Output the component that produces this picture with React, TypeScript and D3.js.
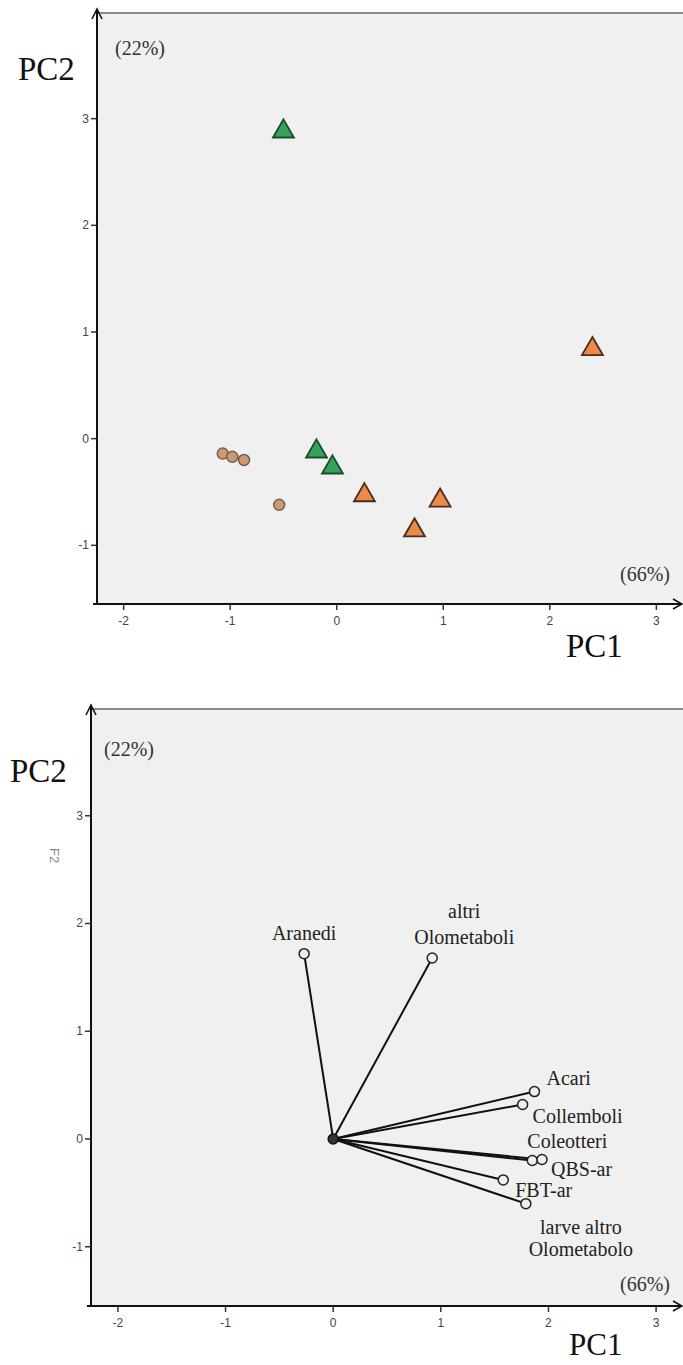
import React from 'react';
import * as d3 from 'd3';

const W = 683, H = 1365;

// shared axis values
const ticksX = [-2, -1, 0, 1, 2, 3];
const ticksY = [-1, 0, 1, 2, 3];
const domX = [-2.25, 3.25];
const domY = [-1.55, 4.0];

// top plot: object scores (PC1, PC2)
const greenX = [-0.5, -0.19, -0.04];
const greenY = [2.88, -0.12, -0.27];
const orangeX = [2.4, 0.26, 0.97, 0.73];
const orangeY = [0.84, -0.53, -0.58, -0.86];
const roundX = [-1.07, -0.98, -0.87, -0.54];
const roundY = [-0.14, -0.17, -0.2, -0.62];

// bottom plot: variable loadings
const varNames = ['Aranedi', 'altri\nOlometaboli', 'Acari', 'Collemboli', 'Coleotteri', 'QBS-ar', 'FBT-ar', 'larve altro\nOlometabolo'];
const varX = [-0.27, 0.92, 1.87, 1.76, 1.85, 1.94, 1.58, 1.79];
const varY = [1.72, 1.68, 0.44, 0.32, -0.2, -0.19, -0.38, -0.6];

// label placement relative to the end circle: dx, dy(first baseline), anchor, line gap
const labelPos: [number, number, string, number][] = [
  [0, -14, 'middle', 0],
  [32, -40, 'middle', 26],
  [12, -7, 'start', 0],
  [10, 18, 'start', 0],
  [-5, -13, 'start', 0],
  [9, 17, 'start', 0],
  [12, 17, 'start', 0],
  [55, 30, 'middle', 22],
];

const serif = '"Liberation Serif", "Times New Roman", serif';
const sans = '"Liberation Sans", Arial, sans-serif';

type Frame = { left: number; top: number; bottom: number };

function Axes({ f, x, y }: { f: Frame; x: d3.ScaleLinear<number, number>; y: d3.ScaleLinear<number, number> }) {
  return (
    <g>
      <rect x={f.left} y={f.top} width={W - f.left} height={f.bottom - f.top} fill="#f0f0f0" />
      <line x1={f.left} x2={W} y1={f.top + 1} y2={f.top + 1} stroke="#8a8a8a" strokeWidth={2} />
      {/* y axis with arrow */}
      <line x1={f.left} x2={f.left} y1={f.bottom} y2={f.top - 2} stroke="#111" strokeWidth={2} />
      <path d={`M${f.left - 5},${f.top + 7} L${f.left},${f.top - 3} L${f.left + 5},${f.top + 7}`} fill="none" stroke="#111" strokeWidth={1.6} />
      {/* x axis with arrow */}
      <line x1={f.left - 4} x2={W - 1} y1={f.bottom} y2={f.bottom} stroke="#111" strokeWidth={2} />
      <path d={`M${W - 10},${f.bottom - 5} L${W - 1},${f.bottom} L${W - 10},${f.bottom + 5}`} fill="none" stroke="#111" strokeWidth={1.6} />
      {ticksX.map(t => (
        <g key={'x' + t}>
          <line x1={x(t)} x2={x(t)} y1={f.bottom} y2={f.bottom + 6} stroke="#333" strokeWidth={1.5} />
          <text x={x(t)} y={f.bottom + 21} textAnchor="middle" fontFamily={sans} fontSize={12} fill="#444">{t}</text>
        </g>
      ))}
      {ticksY.map(t => (
        <g key={'y' + t}>
          <line x1={f.left - 6} x2={f.left} y1={y(t)} y2={y(t)} stroke="#333" strokeWidth={1.5} />
          <text x={f.left - 8} y={y(t) + 4} textAnchor="end" fontFamily={sans} fontSize={12} fill="#444">{t}</text>
        </g>
      ))}
    </g>
  );
}

export default function App() {
  const f1: Frame = { left: 97, top: 12, bottom: 604 };
  const f2: Frame = { left: 91, top: 708, bottom: 1306 };
  const x1 = d3.scaleLinear().domain(domX).range([f1.left, W]);
  const y1 = d3.scaleLinear().domain(domY).range([f1.bottom, f1.top]);
  const x2 = d3.scaleLinear().domain(domX).range([f2.left, W]);
  const y2 = d3.scaleLinear().domain(domY).range([f2.bottom, f2.top]);
  const tri = d3.symbol(d3.symbolTriangle, 190)()!;

  return (
    <svg width={W} height={H} style={{ position: 'absolute', left: 0, top: 0, background: '#fff' }}>
      {/* ---- top: scores ---- */}
      <Axes f={f1} x={x1} y={y1} />
      <text x={18} y={80} fontFamily={serif} fontSize={33} fill="#111">PC2</text>
      <text x={115} y={55} fontFamily={serif} fontSize={20} fill="#333">(22%)</text>
      <text x={670} y={581} textAnchor="end" fontFamily={serif} fontSize={20} fill="#333">(66%)</text>
      <text x={566} y={657} fontFamily={serif} fontSize={33} fill="#111">PC1</text>
      {roundX.map((v, i) => (
        <circle key={'c' + i} cx={x1(v)} cy={y1(roundY[i])} r={5.5} fill="#c79b78" stroke="#7d5d46" strokeWidth={1.5} />
      ))}
      {greenX.map((v, i) => (
        <path key={'g' + i} d={tri} transform={`translate(${x1(v)},${y1(greenY[i])})`} fill="#35a25b" stroke="#1d4a2b" strokeWidth={1.8} />
      ))}
      {orangeX.map((v, i) => (
        <path key={'o' + i} d={tri} transform={`translate(${x1(v)},${y1(orangeY[i])})`} fill="#ea8a4b" stroke="#4a2c1b" strokeWidth={1.8} />
      ))}

      {/* ---- bottom: loadings ---- */}
      <Axes f={f2} x={x2} y={y2} />
      <text x={10} y={782} fontFamily={serif} fontSize={33} fill="#111">PC2</text>
      <text x={104} y={756} fontFamily={serif} fontSize={20} fill="#333">(22%)</text>
      <text x={670} y={1291} textAnchor="end" fontFamily={serif} fontSize={20} fill="#333">(66%)</text>
      <text x={569} y={1355} fontFamily={serif} fontSize={31} fill="#111">PC1</text>
      <text transform="translate(50,848) rotate(90)" fontFamily={sans} fontSize={13} fill="#888">F2</text>
      {varX.map((v, i) => (
        <line key={'l' + i} x1={x2(0)} y1={y2(0)} x2={x2(v)} y2={y2(varY[i])} stroke="#111" strokeWidth={2} />
      ))}
      <circle cx={x2(0)} cy={y2(0)} r={5} fill="#333" stroke="#111" strokeWidth={1.5} />
      {varX.map((v, i) => {
        const cx = x2(v), cy = y2(varY[i]);
        const [dx, dy, anchor, gap] = labelPos[i];
        return (
          <g key={'v' + i}>
            <circle cx={cx} cy={cy} r={5} fill="#eee" stroke="#222" strokeWidth={1.5} />
            <text x={cx + dx} y={cy + dy} textAnchor={anchor} fontFamily={serif} fontSize={20} fill="#222">
              {varNames[i].split('\n').map((s, k) => (
                <tspan key={k} x={cx + dx} dy={k === 0 ? 0 : gap}>{s}</tspan>
              ))}
            </text>
          </g>
        );
      })}
    </svg>
  );
}
